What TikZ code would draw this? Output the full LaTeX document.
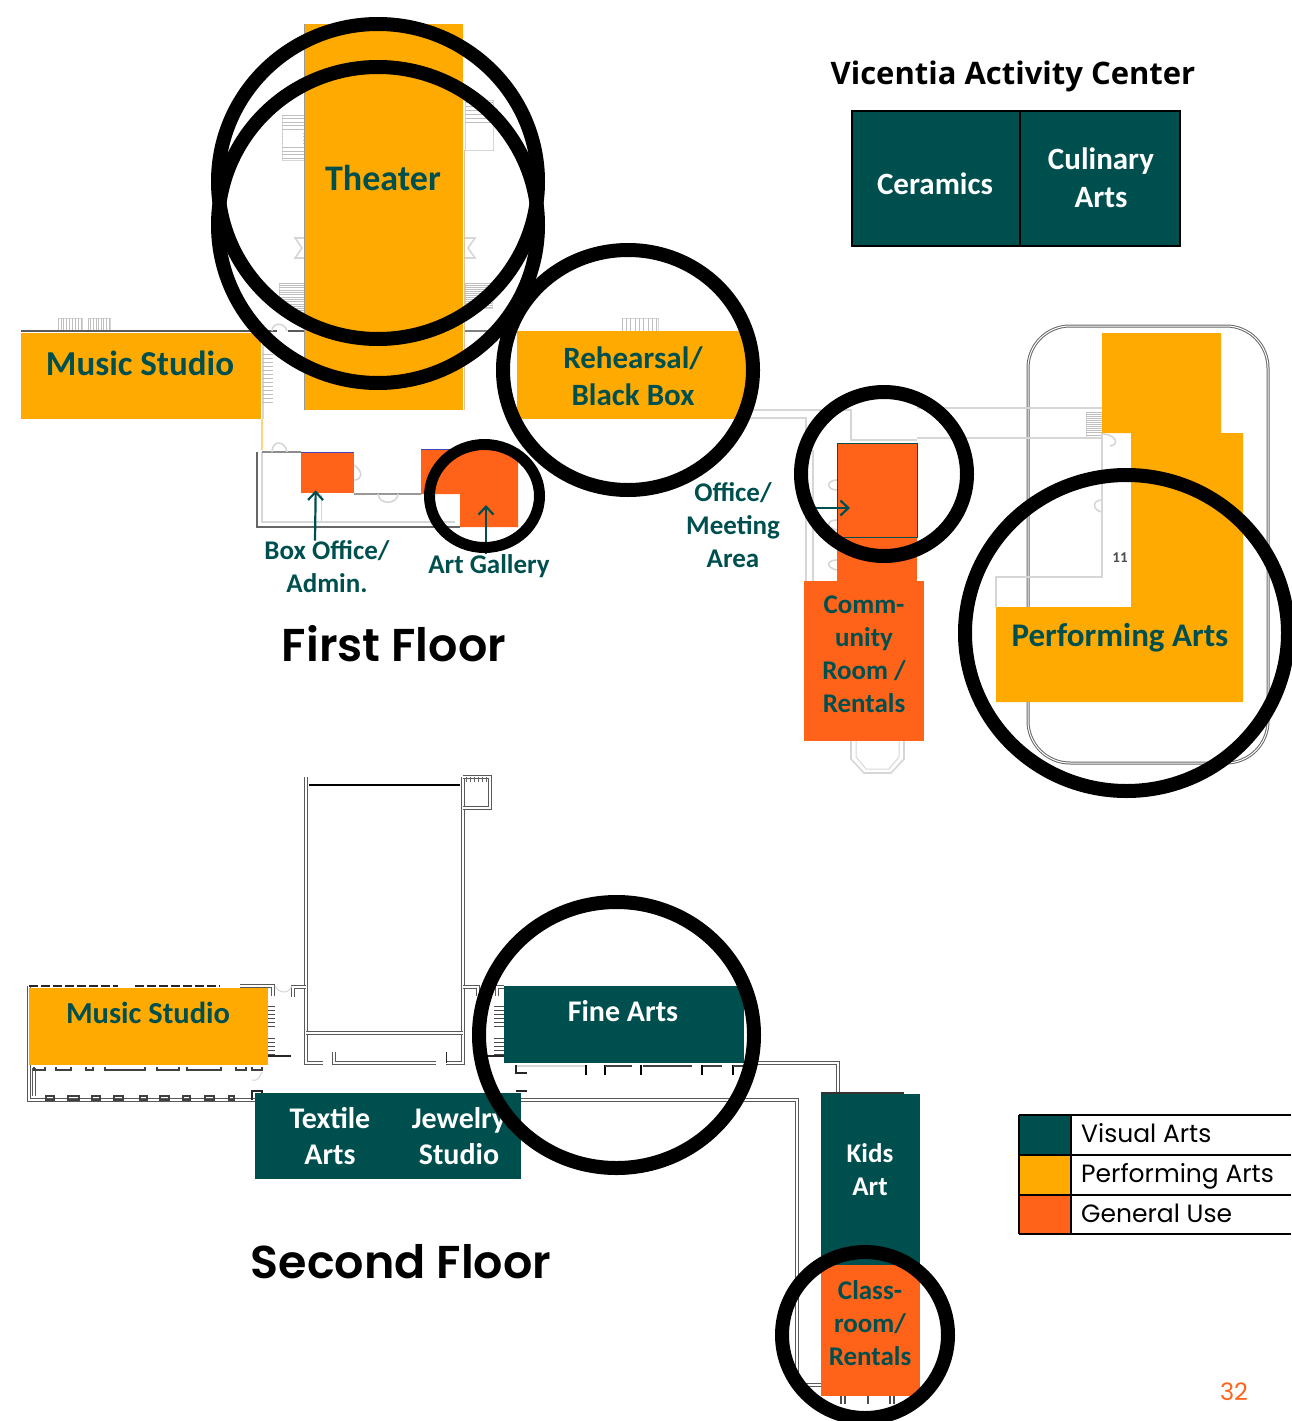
\documentclass[tikz,border=0pt]{standalone}
\usepackage{fontspec}
\setmainfont{Carlito}
\newfontfamily\headfont{Open Sans}
\newfontfamily\keyfont{Poppins}
\newfontfamily\floorfont{Poppins SemiBold}
\usetikzlibrary{arrows.meta}
\definecolor{teal}{HTML}{004F4F}
\definecolor{amber}{HTML}{FFAA00}
\definecolor{rust}{HTML}{FF6319}
\definecolor{faint}{HTML}{D6D6D6}

\begin{document}
\begin{tikzpicture}[x=1pt, y=-1pt]
    \tikzstyle{room} = [rectangle, anchor=north west, inner sep=0pt]
    \tikzstyle{textnode} = [inner sep=0pt, align=center, font=\bfseries]
    \tikzstyle{wall} = [draw=black!65, line width=1.2pt, double=white, double distance=1.5pt]
    \tikzstyle{thinwall} = [draw=faint, line width=1.6pt]
    \tikzstyle{hatch} = [draw=black!25, line width=.7pt]
    \tikzstyle{tick} = [draw=black!85, line width=1.5pt]
    \tikzstyle{ring} = [draw=black, line width=14pt]
    \tikzstyle{pointer} = [draw=teal, line width=2.2pt, -{Straight Barb[length=8pt,width=15pt]}]
    \useasboundingbox (0,0) rectangle (1291,1421);

    % first floor plan
    \draw [draw=black!60, line width=3pt, rounded corners=42pt] (1028,326) rectangle (1268,763);
    \draw [draw=white, line width=1pt, rounded corners=42pt] (1028,326) rectangle (1268,763);
    \foreach \sx/\ex/\sy/\ey in {282/304/115/160, 279/304/283/312, 465/492/283/308, 1086/1102/412/438} {
        \draw [thinwall, line width=1pt] (\sx,\sy) rectangle (\ex,\ey);
        \foreach \t in {0,.08,...,1} {
            \draw [hatch] (\sx,\sy+\t*\ey-\t*\sy) -- (\ex,\sy+\t*\ey-\t*\sy);
        }
    }
    \fill [white] (283,130) rectangle (303,146);
    \draw [thinwall, line width=1pt] (465,100) rectangle (493,150);
    \foreach \yy in {102,106,...,122} {
        \draw [hatch] (465,\yy) -- (493,\yy);
    }
    \foreach \sx/\ex/\sy/\ey in {58/82/318/331, 88/110/318/331, 622/658/318/331} {
        \draw [thinwall, line width=1pt] (\sx,\sy) rectangle (\ex,\ey);
        \foreach \t in {0,.12,...,1} {
            \draw [hatch] (\sx+\t*\ex-\t*\sx,\sy) -- (\sx+\t*\ex-\t*\sx,\ey);
        }
    }
    \draw [thinwall] (304,238) -- (295,238) -- (302,248) -- (295,258) -- (304,258);
    \draw [thinwall] (464,238) -- (475,238) -- (468,248) -- (475,258) -- (464,258);
    \draw [draw=black!65, line width=1.4pt] (21,331) -- (277,331);
    \draw [draw=black!65, line width=1.4pt] (288,331) -- (304,331);
    \draw [draw=black!50, line width=1.4pt] (465,331) -- (500,331);
    \draw [draw=black!60, line width=1.6pt] (257,452) -- (257,527) -- (460,527);
    \draw [thinwall] (262,452) -- (262,522) -- (455,522);
    \draw [thinwall, line width=1pt] (321,494) -- (321,522);
    \draw [draw=black!45, line width=1.2pt] (262,452) -- (301,452);
    \draw [draw=amber!50, line width=1.4pt] (262,419) -- (262,450);
    \draw [thinwall] (263,331) -- (263,419);
    \foreach \yy in {354,358,...,402} {
        \draw [hatch] (262,\yy) -- (273,\yy);
    }
    \draw [draw=black!40, line width=1.2pt] (354,494) -- (421,494);
    \draw [thinwall] (378,494) .. controls (379,505) and (397,505) .. (398,494);
    \draw [thinwall] (354,480) .. controls (362,480) and (364,472) .. (354,465);
    \draw [thinwall] (272,452) .. controls (272,440) and (285,440) .. (287,452);
    \draw [thinwall] (272,331) .. controls (272,322) and (285,322) .. (287,331);
    \draw [thinwall] (747,410) -- (851,410) -- (851,440) -- (917,440);
    \draw [thinwall] (747,418) -- (806,418) -- (806,581);
    \draw [thinwall] (813,450) -- (813,581);
    \draw [thinwall] (917,408) -- (1102,408);
    \draw [thinwall] (917,438) -- (1102,438);
    \draw [thinwall] (1102,433) -- (1102,577) -- (996,577) -- (996,607);
    \draw [thinwall] (1102,434) .. controls (1116,434) and (1120,445) .. (1110,446);
    \draw [thinwall] (1102,500) .. controls (1092,500) and (1092,510) .. (1102,512);
    \draw [thinwall] (837,480) .. controls (826,480) and (826,490) .. (837,490);
    \draw [thinwall] (837,520) .. controls (826,520) and (826,528) .. (837,530);
    \draw [thinwall] (837,560) .. controls (826,560) and (826,568) .. (837,570);
    \draw [thinwall] (851,741) -- (851,759) -- (864,773) -- (891,773) -- (904,759) -- (904,741);
    \draw [thinwall, line width=1pt] (856,741) -- (856,757) -- (866,769) -- (889,769) -- (899,757) -- (899,741);
    \node (roomnumber) [inner sep=0pt, text=black!70, font=\bfseries\fontsize{15}{16}\selectfont] at (1120,558) {11};

    % second floor plan
    \draw [wall] (306,777) -- (306,1063) -- (323,1063);
    \draw [wall] (463,777) -- (463,1063) -- (446,1063);
    \draw [wall] (334,1052) -- (334,1063) -- (436,1063);
    \draw [tick, line width=1pt] (446,1052) -- (446,1063);
    \draw [draw=black, line width=1.6pt] (309,785) -- (460,785);
    \draw [wall] (306,1033) -- (463,1033);
    \draw [wall] (463,808) -- (490,808) -- (490,777) -- (463,777);
    \foreach \xx in {466,470,...,488} {
        \draw [draw=black!60, line width=.7pt] (\xx,777) -- (\xx,782);
    }
    \draw [wall] (29,986) -- (29,1100) -- (255,1100);
    \draw [wall] (34,1068) -- (34,1096);
    \draw [tick, dash pattern=on 9pt off 3pt] (29,986) -- (118,986);
    \draw [tick, dash pattern=on 9pt off 3pt] (135,986) -- (220,986);
    \draw [wall] (240,986) -- (273,986) -- (273,996);
    \draw [wall] (293,997) -- (293,987) -- (306,987);
    \draw [wall] (463,987) -- (478,987) -- (478,996);
    \draw [wall] (504,987) -- (497,987) -- (497,996);
    \draw [thinwall, line width=1pt] (275,986) .. controls (280,994) and (288,994) .. (292,986);
    \draw [draw=black!85, line width=1.8pt] (268,1056) -- (291,1056);
    \draw [draw=black!85, line width=1.8pt] (486,1056) -- (504,1056);
    \foreach \yy in {1006,1010,...,1026,1038,1042,...,1054} {
        \draw [draw=black!70, line width=.7pt] (268,\yy) -- (275,\yy);
        \draw [draw=black!70, line width=.7pt] (494,\yy) -- (504,\yy);
    }
    \foreach \sx/\ex in {46/54, 68/79, 92/100, 114/123, 140/147, 160/169, 183/190, 205/214, 229/234} {
        \draw [draw=black!75, line width=1.3pt] (\sx,1096) rectangle (\ex,1100);
    }
    \foreach \sx/\ex in {34/45, 56/71, 86/93, 105/145, 157/179, 187/221, 236/246, 252/262} {
        \draw [draw=black!75, line width=1.6pt] (\sx,1067) -- (\sx,1070) -- (\ex,1070) -- (\ex,1067);
    }
    \draw [tick] (252,1100) -- (252,1091) -- (262,1091) -- (262,1100);
    \draw [tick] (516,1065) -- (516,1073) -- (527,1073);
    \draw [tick] (516,1091) -- (527,1091);
    \draw [thinwall, line width=1pt] (252,1080) .. controls (258,1082) and (260,1076) .. (262,1072);
    \draw [wall] (521,1100) -- (797,1100) -- (797,1385) -- (821,1385);
    \draw [wall] (744,1063) -- (838,1063) -- (838,1094);
    \draw [thinwall] (517,1066) -- (586,1066);
    \foreach \xx in {586,605,641,702,733} {
        \draw [draw=black, line width=1.6pt] (\xx,1065) -- (\xx,1075);
    }
    \foreach \sx/\ex in {605/632, 643/692, 703/722, 733/747} {
        \draw [draw=black!75, line width=1.4pt] (\sx,1066) -- (\ex,1066);
    }
    \draw [draw=black!80, line width=1.6pt] (821,1093) -- (904,1093);
    \foreach \xx in {841,845,868,890,894} {
        \draw [draw=black!70, line width=1.2pt] (\xx,1396) -- (\xx,1404);
    }

    % rooms
    \node (theater) [room, fill=amber, minimum width=159pt, minimum height=386pt] at (304,24) {};
    \draw [draw=black!40, line width=1pt] (304,24) -- (304,410);
    \draw [draw=brown!50, line width=1pt] (464,150) -- (464,410);
    \node (music) [room, fill=amber, minimum width=240pt, minimum height=86pt] at (21,333) {};
    \node (rehearsal) [room, fill=amber, minimum width=230pt, minimum height=88pt] at (517,331) {};
    \fill [amber] (1102,333) -- (1221,333) -- (1221,433) -- (1243,433) -- (1243,702) -- (996,702) -- (996,607) -- (1131,607) -- (1131,433) -- (1102,433) -- cycle;
    \node (boxroom) [room, fill=rust, minimum width=53pt, minimum height=41pt] at (301,452) {};
    \draw [draw=blue!45!gray, line width=1pt] (301,452) -- (354,452);
    \fill [rust] (421,449) -- (518,449) -- (518,527) -- (460,527) -- (460,494) -- (421,494) -- cycle;
    \draw [draw=blue!45!gray, line width=1pt] (421,449) -- (450,449);
    \coordinate (gallerytip) at (486,505);
    \node (officelower) [room, fill=rust, minimum width=80pt, minimum height=46pt] at (837,537) {};
    \node (office) [room, fill=rust, draw=teal, line width=1.4pt, minimum width=80pt, minimum height=94pt] at (837,443) {};
    \coordinate (officetip) at (850,508);
    \node (community) [room, fill=rust, minimum width=120pt, minimum height=160pt] at (804,581) {};
    \node (music2) [room, fill=amber, minimum width=239pt, minimum height=77pt] at (29,988) {};
    \node (fiber) [room, fill=teal, minimum width=266pt, minimum height=86pt] at (255,1093) {};
    \node (finearts) [room, fill=teal, minimum width=240pt, minimum height=77pt] at (504,986) {};
    \node (kids) [room, fill=teal, minimum width=99pt, minimum height=171pt] at (821,1094) {};
    \node (classroom) [room, fill=rust, minimum width=99pt, minimum height=131pt] at (821,1265) {};

    % labels
    \node (theaterlabel) [textnode, text=teal, font=\bfseries\fontsize{36}{38}\selectfont] at (383,178) {Theater};
    \node (musiclabel) [textnode, text=teal, font=\bfseries\fontsize{35}{38}\selectfont] at (140,363) {Music Studio};
    \node (rehearsallabel) [textnode, text=teal, font=\bfseries\fontsize{31}{37}\selectfont] at (633,376) {Rehearsal/\\Black Box};
    \node (boxlabel) [textnode, text=teal, font=\bfseries\fontsize{27}{33}\selectfont] at (327,567) {Box Office/\\Admin.};
    \node (gallerylabel) [textnode, text=teal, font=\bfseries\fontsize{27}{33}\selectfont] at (489,566) {Art Gallery};
    \node (officelabel) [textnode, text=teal, font=\bfseries\fontsize{27}{33}\selectfont] at (733,525) {Office/\\Meeting\\Area};
    \node (communitylabel) [textnode, text=teal, font=\bfseries\fontsize{27}{33}\selectfont] at (864,654) {Comm-\\unity\\Room /\\Rentals};
    \node (perflabel) [textnode, text=teal, font=\bfseries\fontsize{33}{36}\selectfont] at (1120,638) {Performing Arts};
    \node (music2label) [textnode, text=teal, font=\bfseries\fontsize{30.5}{36}\selectfont] at (148,1013) {Music Studio};
    \node (textilelabel) [textnode, text=white, font=\bfseries\fontsize{30}{36}\selectfont] at (330,1136) {Textile\\Arts};
    \node (jewelrylabel) [textnode, text=white, font=\bfseries\fontsize{30}{36}\selectfont] at (459,1136) {Jewelry\\Studio};
    \node (fineartslabel) [textnode, text=white, font=\bfseries\fontsize{30}{36}\selectfont] at (623,1011) {Fine Arts};
    \node (kidslabel) [textnode, text=white, font=\bfseries\fontsize{27}{33}\selectfont] at (870,1170) {Kids\\Art};
    \node (classroomlabel) [textnode, text=teal, font=\bfseries\fontsize{27}{33}\selectfont] at (870,1323) {Class-\\room/\\Rentals};

    \node (ceramics) [room, fill=teal, draw=black, line width=2.4pt, minimum width=168pt, minimum height=135pt] at (851,110) {};
    \node (culinary) [room, fill=teal, draw=black, line width=2.4pt, minimum width=160pt, minimum height=135pt] at (1019,110) {};
    \node (ceramicslabel) [textnode, text=white, font=\bfseries\fontsize{31}{38}\selectfont] at (935,184) {Ceramics};
    \node (culinarylabel) [textnode, text=white, font=\bfseries\fontsize{31}{38}\selectfont] at (1101,178) {Culinary\\Arts};

    \node (centertitle) [inner sep=0pt, font=\headfont\bfseries\fontsize{31}{36}\selectfont] at (1013,76) {Vicentia Activity Center};
    \node (firsttitle) [inner sep=0pt, font=\floorfont\fontsize{46}{48}\selectfont] at (394,644) {First Floor};
    \node (secondtitle) [inner sep=0pt, font=\floorfont\fontsize{46}{48}\selectfont] at (401,1262) {Second Floor};

    % legend
    \node (keyvisual) [room, fill=teal, minimum width=52pt, minimum height=40pt] at (1019,1115) {};
    \node (keyperforming) [room, fill=amber, minimum width=52pt, minimum height=40pt] at (1019,1155) {};
    \node (keygeneral) [room, fill=rust, minimum width=52pt, minimum height=39pt] at (1019,1195) {};
    \draw [draw=black, line width=2pt] (1019,1115) -- (1291,1115);
    \draw [draw=black, line width=2pt] (1019,1155) -- (1291,1155);
    \draw [draw=black, line width=2pt] (1019,1195) -- (1291,1195);
    \draw [draw=black, line width=2pt] (1019,1234) -- (1291,1234);
    \draw [draw=black, line width=2pt] (1019,1115) -- (1019,1234);
    \draw [draw=black, line width=2pt] (1071,1115) -- (1071,1234);
    \node (visualtext) [inner sep=0pt, anchor=base west, font=\keyfont\fontsize{25}{28}\selectfont] at (1081,1142) {Visual Arts};
    \node (performingtext) [inner sep=0pt, anchor=base west, font=\keyfont\fontsize{25}{28}\selectfont] at (1081,1182) {Performing Arts};
    \node (generaltext) [inner sep=0pt, anchor=base west, font=\keyfont\fontsize{25}{28}\selectfont] at (1081,1222) {General Use};

    \node (pagenumber) [inner sep=0pt, text=rust, font=\keyfont\fontsize{24}{26}\selectfont] at (1234,1392) {32};

    \draw [pointer] ([xshift=-12pt]boxlabel.north) -- ([xshift=-12pt,yshift=3pt]boxroom.south);
    \draw [pointer] (gallerylabel.north -| gallerytip) -- (gallerytip);
    \draw [pointer] ([shift={(26,-17)}]officelabel.east) -- (officetip);

    % rings
    \draw [ring] (378,181.5) circle [x radius=160, y radius=157.5];
    \draw [ring] (378,225) circle [x radius=160, y radius=158];
    \draw [ring] (628,370) circle [x radius=125, y radius=120];
    \draw [ring, line width=11pt] (484.5,496) circle [x radius=55, y radius=51.5];
    \draw [ring] (884,474) circle [x radius=83, y radius=82];
    \draw [ring] (1126.5,633) circle [x radius=161.5, y radius=158];
    \draw [ring] (616.5,1035) circle [x radius=137.5, y radius=133];
    \draw [ring] (865,1335) circle [x radius=83, y radius=83];
\end{tikzpicture}
\end{document}
